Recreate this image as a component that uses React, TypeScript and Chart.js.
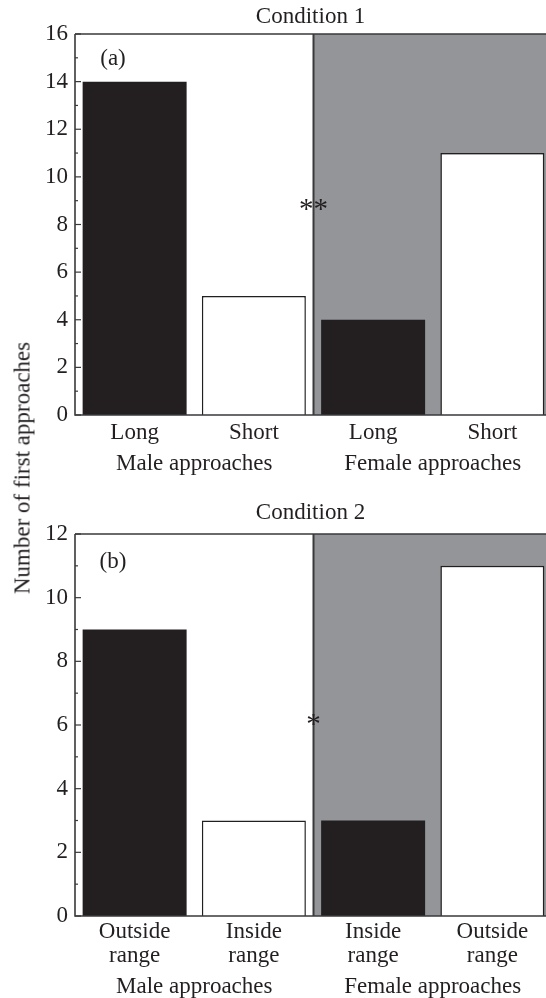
import React, { useEffect, useRef } from "react";
import { Chart, registerables } from "chart.js";

Chart.register(...registerables);

// ---- data ----
const PANEL_A_CATEGORIES = ["Long", "Short", "Long", "Short"];
const PANEL_A_VALUES = [14, 5, 4, 11];
const PANEL_A_MAX = 16;

const PANEL_B_CATEGORIES = [
  ["Outside", "range"],
  ["Inside", "range"],
  ["Inside", "range"],
  ["Outside", "range"],
];
const PANEL_B_VALUES = [9, 3, 3, 11];
const PANEL_B_MAX = 12;

const GROUPS = ["Male approaches", "Female approaches"];
const TITLES = ["Condition 1", "Condition 2"];
const PANEL_TAGS = ["(a)", "(b)"];
const SIG_MARKS = ["**", "*"];
const SIG_VALUES = [8.6, 6.0];
const Y_TITLE = "Number of first approaches";

// ---- styles ----
const FONT = "'Liberation Serif', 'Times New Roman', serif";
const FONT_SIZE = 23;
const INK = "#231f20";
const LINE = "#3a3a3c";
const GRAY = "#939598";
const BAR_COLORS = [INK, "#ffffff", INK, "#ffffff"];
const BAR_BORDERS = [0, 1.5, 0, 1.5];

type PanelSpec = {
  categories: any[];
  values: number[];
  max: number;
  title: string;
  tag: string;
  sig: string;
  sigValue: number;
  padTop: number;
  titleOffset: number;
  tagOffsetY: number;
  xHeight: number;
  x2Height: number;
  xPad: number;
  xLineHeight: number;
  x2Pad: number;
};

const decorPlugin = {
  id: "decor",
  beforeDatasetsDraw(chart: any) {
    const { ctx, chartArea: a } = chart;
    const xs = chart.scales.x;
    const gx = xs.getPixelForValue(1.5);
    ctx.save();
    ctx.fillStyle = GRAY;
    ctx.fillRect(gx, a.top, a.right - gx, a.bottom - a.top);
    ctx.strokeStyle = LINE;
    ctx.lineWidth = 2;
    ctx.beginPath();
    ctx.moveTo(gx, a.top);
    ctx.lineTo(gx, a.bottom);
    ctx.stroke();
    ctx.restore();
  },
  afterDatasetsDraw(chart: any, _args: any, opts: any) {
    const { ctx, chartArea: a } = chart;
    const xs = chart.scales.x;
    const ys = chart.scales.y;
    const spec: PanelSpec = opts.spec;
    ctx.save();
    // frame lines
    ctx.strokeStyle = LINE;
    ctx.lineWidth = 1.6;
    ctx.beginPath();
    ctx.moveTo(a.left, a.top);
    ctx.lineTo(a.right, a.top);
    ctx.moveTo(a.left, a.top);
    ctx.lineTo(a.left, a.bottom);
    ctx.lineTo(a.right, a.bottom);
    ctx.stroke();
    // inward ticks
    ctx.lineWidth = 1.2;
    for (let v = 0; v <= spec.max; v++) {
      const y = ys.getPixelForValue(v);
      const len = v % 2 === 0 ? 6 : 3;
      ctx.beginPath();
      ctx.moveTo(a.left, y);
      ctx.lineTo(a.left + len, y);
      ctx.stroke();
    }
    ctx.fillStyle = INK;
    ctx.font = `${FONT_SIZE}px ${FONT}`;
    ctx.textAlign = "center";
    ctx.textBaseline = "middle";
    // title
    ctx.fillText(spec.title, (a.left + a.right) / 2 - 3, a.top - spec.titleOffset);
    // panel tag
    ctx.fillText(spec.tag, a.left + 38, a.top + spec.tagOffsetY);
    // significance
    ctx.font = `29px ${FONT}`;
    ctx.fillText(spec.sig, xs.getPixelForValue(1.5), ys.getPixelForValue(spec.sigValue));
    ctx.restore();
  },
};

function makeConfig(spec: PanelSpec): any {
  return {
    type: "bar",
    data: {
      labels: spec.categories,
      datasets: [
        {
          data: spec.values,
          backgroundColor: BAR_COLORS,
          borderColor: INK,
          borderWidth: BAR_BORDERS,
          borderSkipped: "start",
          categoryPercentage: 1,
          barPercentage: 0.872,
        },
      ],
    },
    options: {
      responsive: false,
      animation: false,
      events: [],
      layout: { padding: { top: spec.padTop, left: 0, right: 0, bottom: 0 } },
      plugins: {
        legend: { display: false },
        tooltip: { enabled: false },
        title: { display: false },
        decor: { spec },
      },
      scales: {
        x: {
          type: "category",
          position: "bottom",
          offset: true,
          weight: 0,
          grid: { display: false, drawTicks: false },
          border: { display: false },
          ticks: {
            color: INK,
            padding: spec.xPad,
            maxRotation: 0,
            autoSkip: false,
            font: { family: FONT, size: FONT_SIZE, lineHeight: spec.xLineHeight },
          },
          afterFit(scale: any) {
            scale.height = spec.xHeight;
          },
        },
        x2: {
          type: "category",
          labels: GROUPS,
          position: "bottom",
          offset: true,
          weight: 1,
          grid: { display: false, drawTicks: false },
          border: { display: false },
          ticks: {
            color: INK,
            padding: spec.x2Pad,
            maxRotation: 0,
            autoSkip: false,
            font: { family: FONT, size: FONT_SIZE, lineHeight: 1.2 },
          },
          afterFit(scale: any) {
            scale.height = spec.x2Height;
          },
        },
        y: {
          type: "linear",
          min: 0,
          max: spec.max,
          grid: { display: false, drawTicks: false },
          border: { display: false },
          ticks: {
            stepSize: 2,
            color: INK,
            padding: 7,
            font: { family: FONT, size: FONT_SIZE },
          },
          afterFit(scale: any) {
            scale.width = 75;
          },
        },
      },
    },
    plugins: [decorPlugin],
  };
}

const SPEC_A: PanelSpec = {
  categories: PANEL_A_CATEGORIES,
  values: PANEL_A_VALUES,
  max: PANEL_A_MAX,
  title: TITLES[0],
  tag: PANEL_TAGS[0],
  sig: SIG_MARKS[0],
  sigValue: SIG_VALUES[0],
  padTop: 34,
  titleOffset: 17,
  tagOffsetY: 25,
  xHeight: 35,
  x2Height: 45,
  xPad: 4,
  xLineHeight: 1.2,
  x2Pad: 0,
};

const SPEC_B: PanelSpec = {
  categories: PANEL_B_CATEGORIES,
  values: PANEL_B_VALUES,
  max: PANEL_B_MAX,
  title: TITLES[1],
  tag: PANEL_TAGS[1],
  sig: SIG_MARKS[1],
  sigValue: SIG_VALUES[1],
  padTop: 39,
  titleOffset: 21,
  tagOffsetY: 28,
  xHeight: 53,
  x2Height: 29,
  xPad: 4,
  xLineHeight: 1.05,
  x2Pad: 4,
};

function Panel({ spec, top, height }: { spec: PanelSpec; top: number; height: number }) {
  const ref = useRef<HTMLCanvasElement | null>(null);
  useEffect(() => {
    if (!ref.current) return;
    const chart = new Chart(ref.current, makeConfig(spec));
    return () => chart.destroy();
  }, [spec]);
  return (
    <canvas
      ref={ref}
      width={552}
      height={height}
      style={{ position: "absolute", left: 0, top, width: 552, height, display: "block" }}
    />
  );
}

export default function App() {
  return (
    <div
      style={{
        position: "absolute",
        left: 0,
        top: 0,
        width: 546,
        height: 998,
        overflow: "hidden",
        background: "#ffffff",
      }}
    >
      <Panel spec={SPEC_A} top={0} height={495} />
      <Panel spec={SPEC_B} top={495} height={503} />
      <div
        style={{
          position: "absolute",
          left: 22,
          top: 468,
          transform: "translate(-50%, -50%) rotate(-90deg)",
          whiteSpace: "nowrap",
          fontFamily: FONT,
          fontSize: FONT_SIZE,
          color: INK,
          lineHeight: 1,
        }}
      >
        {Y_TITLE}
      </div>
    </div>
  );
}
